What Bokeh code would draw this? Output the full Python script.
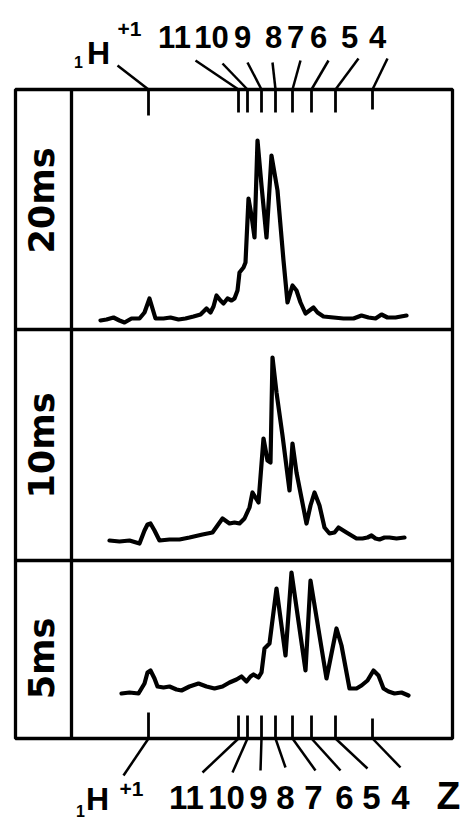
import numpy as np
from bokeh.plotting import figure
from bokeh.models import Range1d
from bokeh.core.properties import value
from bokeh.embed import file_html
from bokeh.resources import INLINE

# ---------------- data ----------------
PANEL_NAMES = ["20ms", "10ms", "5ms"]

# flight-time positions of the markers (arbitrary time units): 1H+1, then Z = 11 ... 4
MARK_T = [148, 238, 247, 261, 275, 292, 311, 335, 372]
Z_LABELS = ["11", "10", "9", "8", "7", "6", "5", "4"]

# 20 ms spectrum: time, intensity (arbitrary units)
T_20 = [100, 106, 113, 119, 124, 131, 139, 144, 149, 152, 155, 163, 170, 178, 185, 193, 200, 206,
        210, 213, 216, 220, 223, 227, 231, 234, 237, 239, 243, 245, 248, 251, 254, 257, 261, 266,
        271, 277, 283, 287, 292, 296, 300, 305, 309, 313, 317, 323, 333, 343, 353, 361, 368, 375,
        381, 387, 395, 406]
I_20 = [9, 10, 12, 9, 7, 11, 11, 17, 31, 21, 11, 11, 12, 10, 11, 13, 15, 21,
        17, 23, 34, 29, 26, 31, 29, 31, 39, 57, 62, 67, 131, 114, 92, 189, 144, 92,
        174, 139, 69, 27, 44, 39, 27, 16, 19, 22, 17, 13, 12, 11, 11, 14, 12, 11,
        15, 12, 12, 14]

# 10 ms spectrum
T_10 = [109, 119, 129, 139, 144, 147, 150, 154, 159, 169, 179, 189, 202, 212, 217, 222, 229, 234,
        239, 244, 249, 252, 255, 258, 263, 267, 270, 272, 276, 282, 289, 292, 296, 306, 310, 314,
        319, 324, 329, 334, 338, 346, 356, 362, 367, 371, 375, 379, 384, 389, 396, 404]
I_10 = [20, 19, 20, 17, 30, 36, 37, 30, 20, 21, 21, 23, 26, 28, 35, 42, 37, 38,
        37, 42, 53, 68, 63, 58, 122, 100, 98, 203, 168, 125, 70, 117, 88, 37, 55, 68,
        55, 33, 27, 28, 33, 28, 22, 22, 23, 25, 22, 21, 23, 23, 22, 23]

# 5 ms spectrum
T_5 = [121, 129, 138, 144, 147, 150, 154, 157, 163, 169, 176, 181, 189, 198, 206, 214, 222, 229,
       236, 241, 246, 250, 253, 258, 261, 264, 269, 276, 285, 291, 305, 310, 326, 336, 341, 349,
       356, 361, 367, 373, 378, 383, 388, 394, 401, 408]
I_5 = [45, 46, 45, 55, 66, 68, 60, 52, 51, 52, 49, 48, 52, 55, 52, 50, 52, 56,
       59, 62, 57, 62, 64, 61, 66, 90, 95, 150, 83, 166, 68, 158, 60, 110, 93, 50,
       50, 53, 58, 68, 63, 50, 47, 45, 46, 43]

SERIES = [(T_20, I_20), (T_10, I_10), (T_5, I_5)]

# ---------------- layout (positions / sizes) ----------------
W, H = 462, 822
LEFT, LABEL_COL, RIGHT = 15, 71, 452
TOP, DIV1, DIV2, BOTTOM = 733, 493, 262, 84
PANEL_BASES = [DIV1, DIV2, BOTTOM]
PANEL_LABEL_Y = [622, 377, 164]
PANEL_LABEL_BASE_X = 53

TOP_LABEL_X = [174, 211, 242, 273, 295, 318, 349, 377]
BOT_LABEL_X = [186, 226, 258, 285, 313, 344, 371, 400]
TOP_LEAD_X = [117, 195, 222, 247, 272, 300, 328, 358, 387]
TOP_LEAD_Y = [757, 762, 759, 760, 760, 762, 762, 764, 764]
BOT_LEAD_X = [123, 202, 232, 260, 285, 315, 340, 367, 400]
BOT_LEAD_Y = [47, 50, 50, 52, 55, 52, 52, 54, 55]
TICK_LEN = [26, 23, 23, 23, 23, 23, 23, 23, 20]

INK = "black"
F_NUM = value("Liberation Sans")
F_PANEL = value("DejaVu Sans")
K_BASE = 0.33   # compensation of the rendered baseline offset (in em)

p = figure(width=W, height=H, x_range=Range1d(0, W), y_range=Range1d(0, H),
           output_backend="svg", toolbar_location=None, min_border=0,
           x_axis_location=None, y_axis_location=None)
p.grid.visible = False
p.outline_line_color = None
p.background_fill_color = "white"
p.border_fill_color = "white"


def label(xs, ys, texts, size, font=F_NUM, angle=0.0):
    xs = np.asarray(xs, dtype=float)
    ys = np.asarray(ys, dtype=float)
    if angle:
        xs = xs - K_BASE * size
    else:
        ys = ys + K_BASE * size
    p.text(x=xs, y=ys, text=texts, angle=angle, text_align="center",
           text_baseline="alphabetic", text_font=font, text_font_style="bold",
           text_font_size=f"{size}px", text_color=INK)


# frame
p.quad(left=[LEFT], right=[RIGHT], bottom=[BOTTOM], top=[TOP], fill_color=None,
       line_color=INK, line_width=3.3)
p.segment(x0=[LEFT, LEFT, LABEL_COL], y0=[DIV1, DIV2, BOTTOM],
          x1=[RIGHT, RIGHT, LABEL_COL], y1=[DIV1, DIV2, TOP],
          line_color=INK, line_width=3.3)

# spectra
for (t, inten), base in zip(SERIES, PANEL_BASES):
    p.line(t, np.asarray(inten) + base, line_color=INK, line_width=4.2,
           line_join="round", line_cap="round")

# panel labels
label([PANEL_LABEL_BASE_X] * 3, PANEL_LABEL_Y, PANEL_NAMES, 35, font=F_PANEL, angle=np.pi / 2)

# marker ticks (top and bottom) and their leader lines
mt = np.asarray(MARK_T)
tl = np.asarray(TICK_LEN)
p.segment(x0=mt, y0=[TOP] * 9, x1=mt, y1=TOP - tl, line_color=INK, line_width=2.8)
p.segment(x0=mt, y0=[BOTTOM] * 9, x1=mt, y1=BOTTOM + tl, line_color=INK, line_width=2.8)
p.segment(x0=mt, y0=[TOP] * 9, x1=TOP_LEAD_X, y1=TOP_LEAD_Y, line_color=INK, line_width=2.5)
p.segment(x0=mt, y0=[BOTTOM] * 9, x1=BOT_LEAD_X, y1=BOT_LEAD_Y, line_color=INK, line_width=2.5)

# Z labels
label(TOP_LABEL_X, [775] * 8, Z_LABELS, 31)
label(BOT_LABEL_X, [14] * 8, Z_LABELS, 33)

# 1H+1 labels (top and bottom)
for hx, hy, px_, py_, sx, sy in [(98, 759, 129, 787, 78, 755), (97, 13, 131, 27, 80, 6)]:
    label([hx], [hy], ["H"], 32)
    label([px_], [py_], ["+1"], 21)
    label([sx], [sy], ["1"], 16)

# axis symbol
label([448], [14], ["Z"], 39)

open("out.html", "w").write(file_html(p, INLINE))
